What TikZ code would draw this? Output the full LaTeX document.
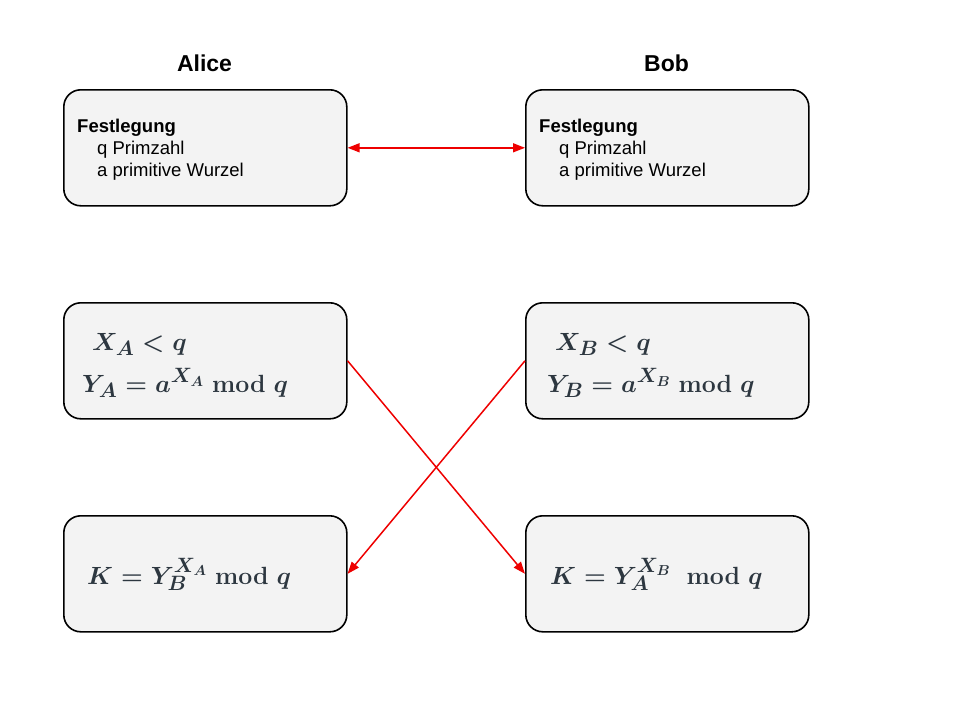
\documentclass[tikz,border=0pt]{standalone}
\usepackage[no-math]{fontspec}
\setmainfont{Liberation Sans}
\usetikzlibrary{arrows.meta}
\definecolor{boxfill}{RGB}{243,243,243}
\definecolor{mathcol}{RGB}{45,55,64}
\definecolor{arrred}{RGB}{238,0,0}
\begin{document}
\begin{tikzpicture}[x=1pt,y=-1pt,
  box/.style={draw=black, line width=1.6pt, fill=boxfill, rounded corners=17pt,
    minimum width=283pt, minimum height=116pt, inner sep=0pt, anchor=north west},
  title/.style={anchor=base, inner sep=0pt, font=\fontsize{23}{27}\selectfont\bfseries},
  lbl/.style={anchor=base west, inner sep=0pt, font=\fontsize{18.5}{22}\selectfont},
  lblb/.style={lbl, font=\fontsize{18.5}{22}\selectfont\bfseries},
  mth/.style={anchor=base west, inner sep=0pt, text=mathcol, font=\fontsize{30}{35}\selectfont\boldmath},
  tipb/.tip={Triangle[length=12pt,width=9pt]},
  arr/.style={draw=arrred, line width=1.5pt, -tipb},
]
\useasboundingbox (0,0) rectangle (960,720);
% titles
\node[title] (alice) at (204.5,71) {Alice};
\node[title] (bob) at (666.5,71) {Bob};
% boxes
\node[box] (a1) at (63,89) {};
\node[box] (b1) at (525,89) {};
\node[box] (a2) at (63,302) {};
\node[box] (b2) at (525,302) {};
\node[box] (a3) at (63,515) {};
\node[box] (b3) at (525,515) {};
% top texts
\node[lblb] (fa) at (77,132) {Festlegung};
\node[lbl] (qa) at (97,154) {q Primzahl};
\node[lbl] (pa) at (97,176) {a primitive Wurzel};
\node[lblb] (fb) at (539,132) {Festlegung};
\node[lbl] (qb) at (559,154) {q Primzahl};
\node[lbl] (pb) at (559,176) {a primitive Wurzel};
% math
\node[mth] (xa) at (92,350) {$X_A < q$};
\node[mth] (ya) at (82,392) {$Y_A = a^{X_A} \bmod q$};
\node[mth] (ka) at (87,584) {$K = Y_B^{X_A} \bmod q$};
\node[mth] (xb) at (555,350) {$X_B < q$};
\node[mth] (yb) at (547,392) {$Y_B = a^{X_B} \bmod q$};
\node[mth] (kb) at (550,584) {$K = Y_A^{X_B}\; \bmod q$};
% arrows
\draw[arr, tipb-tipb] (a1.east) -- (b1.west);
\draw[arr] (a2.east) -- (b3.west);
\draw[arr] (b2.west) -- (a3.east);
\end{tikzpicture}
\end{document}
